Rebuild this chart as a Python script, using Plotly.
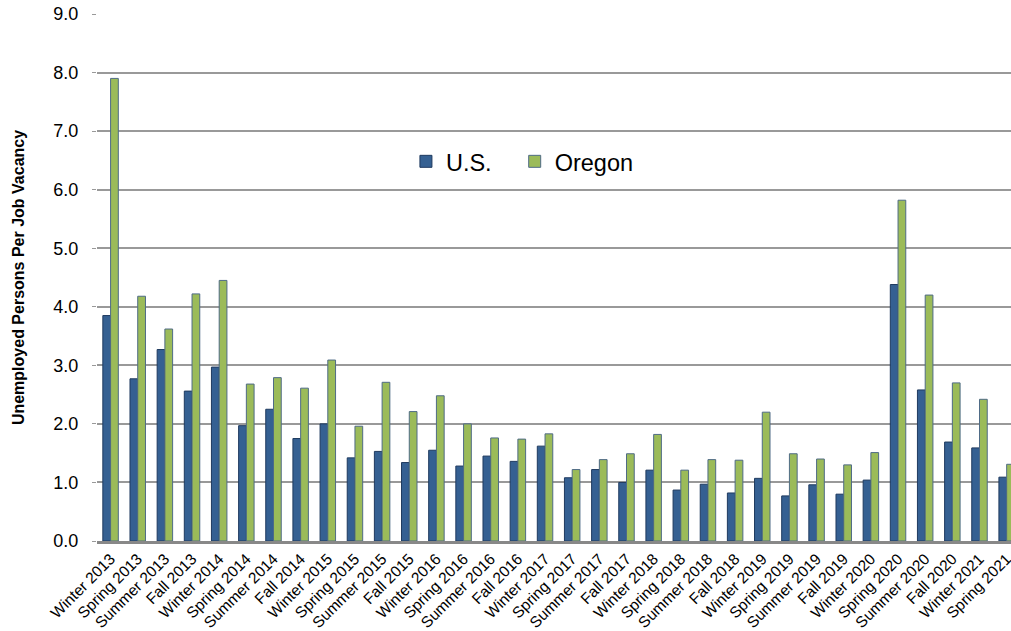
import plotly.graph_objects as go

categories = ["Winter 2013", "Spring 2013", "Summer 2013", "Fall 2013",
              "Winter 2014", "Spring 2014", "Summer 2014", "Fall 2014",
              "Winter 2015", "Spring 2015", "Summer 2015", "Fall 2015",
              "Winter 2016", "Spring 2016", "Summer 2016", "Fall 2016",
              "Winter 2017", "Spring 2017", "Summer 2017", "Fall 2017",
              "Winter 2018", "Spring 2018", "Summer 2018", "Fall 2018",
              "Winter 2019", "Spring 2019", "Summer 2019", "Fall 2019",
              "Winter 2020", "Spring 2020", "Summer 2020", "Fall 2020",
              "Winter 2021", "Spring 2021"]

us = [3.85, 2.77, 3.27, 2.56, 2.97, 1.97, 2.25, 1.75, 2.00, 1.42, 1.53, 1.34,
      1.55, 1.28, 1.45, 1.36, 1.62, 1.08, 1.22, 1.00, 1.21, 0.87, 0.97, 0.82,
      1.07, 0.77, 0.96, 0.80, 1.04, 4.38, 2.58, 1.69, 1.59, 1.09]

oregon = [7.90, 4.18, 3.62, 4.22, 4.45, 2.68, 2.79, 2.61, 3.09, 1.96, 2.71, 2.21,
          2.48, 2.00, 1.76, 1.74, 1.83, 1.22, 1.39, 1.49, 1.82, 1.21, 1.39, 1.38,
          2.20, 1.49, 1.40, 1.30, 1.51, 5.82, 4.20, 2.70, 2.42, 1.31]

y_ticks = [0, 1, 2, 3, 4, 5, 6, 7, 8, 9]
y_tick_labels = ["0.0", "1.0", "2.0", "3.0", "4.0", "5.0", "6.0", "7.0", "8.0", "9.0"]

FONT = "Liberation Sans, Arial, sans-serif"

fig = go.Figure()
fig.add_trace(go.Bar(
    x=categories, y=us, name="U.S.", legend="legend",
    marker=dict(color="#356092", line=dict(color="#1f3a5f", width=1)),
))
fig.add_trace(go.Bar(
    x=categories, y=oregon, name="Oregon", legend="legend2",
    marker=dict(color="#9bbb59", line=dict(color="#4f6b86", width=1)),
))

legend_common = dict(
    orientation="h", y=0.72, xanchor="left", yanchor="middle",
    font=dict(size=23.5, family=FONT), bgcolor="rgba(0,0,0,0)",
    itemwidth=30,
)

fig.update_layout(
    width=1011, height=631,
    margin=dict(l=97, r=0, t=14, b=90, autoexpand=False),
    paper_bgcolor="white", plot_bgcolor="white",
    barmode="group", bargap=0.43, bargroupgap=0,
    font=dict(family=FONT, color="black"),
    legend=dict(x=0.338, **legend_common),
    legend2=dict(x=0.457, **legend_common),
    showlegend=True,
)

fig.update_xaxes(
    type="category", range=[-0.5, 33.16], tickangle=-45,
    tickfont=dict(size=15.5, family=FONT), showgrid=False,
    showline=True, linecolor="#888888", linewidth=2.5,
    ticks="", fixedrange=True, automargin=False,
)
fig.update_yaxes(
    range=[0, 9], tickvals=y_ticks, ticktext=y_tick_labels,
    tickfont=dict(size=18, family=FONT),
    showgrid=True, gridcolor="#999999", gridwidth=1.8,
    ticks="outside", ticklen=4, tickcolor="#999999",
    ticklabelstandoff=10,
    zeroline=False, showline=False, automargin=False, fixedrange=True,
    title=dict(text="<b>Unemployed Persons Per Job Vacancy</b>",
               font=dict(size=16, family=FONT), standoff=24),
)

fig.write_html("out.html",
               config={"displayModeBar": False},
               post_script="document.body.style.margin='0';document.body.style.overflow='hidden';")
